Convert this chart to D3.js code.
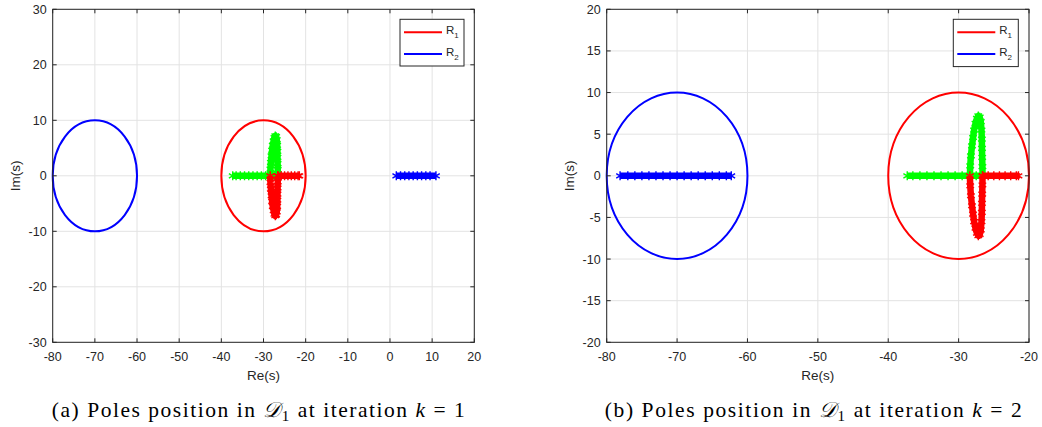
<!DOCTYPE html>
<html><head><meta charset="utf-8">
<script src="https://cdn.jsdelivr.net/npm/d3@7"></script>
<style>
html,body{margin:0;padding:0;background:#fff;}
svg text{font-family:"Liberation Sans",Arial,sans-serif;}
</style></head>
<body>
<svg id="chart" width="1042" height="427"></svg>
<script>
// ---------- data ----------
const xTicksA = [-80,-70,-60,-50,-40,-30,-20,-10,0,10,20];
const yTicksA = [-30,-20,-10,0,10,20,30];
const xTicksB = [-80,-70,-60,-50,-40,-30,-20];
const yTicksB = [-20,-15,-10,-5,0,5,10,15,20];

const regionNames = ["R1","R2"];
const regionCenterRe = [-30,-70];
const regionCenterIm = [0,0];
const regionRadius = [10,10];

// pole loci
const greenRealRe = [-37.3,-36.5,-35.5,-34.5,-33.5,-32.5,-31.5,-30.5,-29.5,-28.5,-27.5,-26.6];
const greenRealIm = [0,0,0,0,0,0,0,0,0,0,0,0];
const greenLoopRe = [-28.4,-28.35,-28.25,-28.1,-27.95,-27.8,-27.6,-27.4,-27.2,-27.0,-26.85,-26.75,-26.7,-26.68,-26.65,-26.62,-26.6];
const greenLoopIm = [0,1.2,2.4,3.6,4.6,5.5,6.3,6.9,7.2,7.05,6.5,5.5,4.4,3.3,2.2,1.1,0];
const redRealRe = [-26.6,-25.8,-25,-24.2,-23.4,-22.6,-21.8,-21.5];
const redRealIm = [0,0,0,0,0,0,0,0];
const redLoopRe = [-28.4,-28.35,-28.25,-28.1,-27.95,-27.8,-27.6,-27.4,-27.2,-27.0,-26.85,-26.75,-26.7,-26.68,-26.65,-26.62,-26.6];
const redLoopIm = [0,-1.2,-2.4,-3.6,-4.6,-5.5,-6.3,-6.9,-7.2,-7.05,-6.5,-5.5,-4.4,-3.3,-2.2,-1.1,0];
const blueRealReA = [1.5,2.5,3.5,4.5,5.5,6.5,7.5,8.5,9.5,10.9];
const blueRealReB = [-78.1,-77,-76,-75,-74,-73,-72,-71,-70,-69,-68,-67,-66,-65,-64,-63,-62.3];

const captionA = {label:"(a) Poles position in ", k:"1"};
const captionB = {label:"(b) Poles position in ", k:"2"};

// ---------- drawing ----------
const svg = d3.select("#chart");
const axisColor = "#262626";
const gridColor = "#e3e3e3";

function zip(a,b){ return a.map((v,i)=>[v,b[i]]); }
function zeros(a){ return a.map(()=>0); }

function drawPanel(opt){
  const x = d3.scaleLinear().domain(opt.xDomain).range([opt.left,opt.right]);
  const y = d3.scaleLinear().domain(opt.yDomain).range([opt.bottom,opt.top]);
  const g = svg.append("g");

  // grid
  g.selectAll(".gx").data(opt.xTicks).enter().append("line")
    .attr("x1",d=>x(d)).attr("x2",d=>x(d)).attr("y1",opt.top).attr("y2",opt.bottom)
    .attr("stroke",gridColor).attr("stroke-width",1);
  g.selectAll(".gy").data(opt.yTicks).enter().append("line")
    .attr("y1",d=>y(d)).attr("y2",d=>y(d)).attr("x1",opt.left).attr("x2",opt.right)
    .attr("stroke",gridColor).attr("stroke-width",1);

  // regions (circles)
  const regionColors = ["#ff0000","#0000ff"];
  regionNames.forEach((n,i)=>{
    g.append("ellipse")
      .attr("cx",x(regionCenterRe[i])).attr("cy",y(regionCenterIm[i]))
      .attr("rx",Math.abs(x(regionCenterRe[i]+regionRadius[i])-x(regionCenterRe[i])))
      .attr("ry",Math.abs(y(regionCenterIm[i]+regionRadius[i])-y(regionCenterIm[i])))
      .attr("fill","none").attr("stroke",regionColors[i]).attr("stroke-width",2);
  });

  // pole loci
  const line = d3.line().x(d=>x(d[0])).y(d=>y(d[1]));
  const ast = d3.symbol().type(d3.symbolAsterisk || d3.symbolCross).size(55);
  function locus(pts,color){
    g.append("path").attr("d",line(pts)).attr("fill","none")
      .attr("stroke",color).attr("stroke-width",6.5).attr("stroke-linejoin","round");
    g.selectAll(null).data(pts).enter().append("path")
      .attr("transform",d=>`translate(${x(d[0])},${y(d[1])})`)
      .attr("d",ast).attr("fill","none").attr("stroke",color).attr("stroke-width",1.4);
  }
  opt.loci.forEach(l=>locus(l.pts,l.color));

  // box
  g.append("rect").attr("x",opt.left).attr("y",opt.top)
    .attr("width",opt.right-opt.left).attr("height",opt.bottom-opt.top)
    .attr("fill","none").attr("stroke",axisColor).attr("stroke-width",1);

  // ticks (inward, all sides)
  const tl = 4;
  opt.xTicks.forEach(t=>{
    g.append("line").attr("x1",x(t)).attr("x2",x(t)).attr("y1",opt.bottom).attr("y2",opt.bottom-tl).attr("stroke",axisColor);
    g.append("line").attr("x1",x(t)).attr("x2",x(t)).attr("y1",opt.top).attr("y2",opt.top+tl).attr("stroke",axisColor);
  });
  opt.yTicks.forEach(t=>{
    g.append("line").attr("y1",y(t)).attr("y2",y(t)).attr("x1",opt.left).attr("x2",opt.left+tl).attr("stroke",axisColor);
    g.append("line").attr("y1",y(t)).attr("y2",y(t)).attr("x1",opt.right).attr("x2",opt.right-tl).attr("stroke",axisColor);
  });

  // tick labels
  g.selectAll(".xl").data(opt.xTicks).enter().append("text")
    .attr("x",d=>x(d)).attr("y",opt.bottom+19).attr("text-anchor","middle")
    .attr("font-size",12.5).attr("fill",axisColor).text(d=>d);
  g.selectAll(".yl").data(opt.yTicks).enter().append("text")
    .attr("x",opt.left-6).attr("y",d=>y(d)+4.5).attr("text-anchor","end")
    .attr("font-size",12.5).attr("fill",axisColor).text(d=>d);

  // axis labels
  g.append("text").attr("x",(opt.left+opt.right)/2).attr("y",opt.bottom+38)
    .attr("text-anchor","middle").attr("font-size",13.5).attr("fill",axisColor).text("Re(s)");
  g.append("text").attr("transform",`translate(${opt.ylabX},${(opt.top+opt.bottom)/2}) rotate(-90)`)
    .attr("text-anchor","middle").attr("font-size",13.5).attr("fill",axisColor).text("Im(s)");

  // legend
  const L = opt.legend;
  g.append("rect").attr("x",L.x).attr("y",L.y).attr("width",L.w).attr("height",L.h)
    .attr("fill","#fff").attr("stroke",axisColor).attr("stroke-width",1);
  regionNames.forEach((n,i)=>{
    const yy = L.y + 13 + i*21.7;
    g.append("line").attr("x1",L.x+4).attr("x2",L.x+42).attr("y1",yy).attr("y2",yy)
      .attr("stroke",regionColors[i]).attr("stroke-width",2);
    const t = g.append("text").attr("x",L.x+46).attr("y",yy+2).attr("font-size",11.5).attr("fill",axisColor);
    t.append("tspan").text(n[0]);
    t.append("tspan").attr("dy",4).attr("font-size",8).text(n.slice(1));
  });

  // caption
  const c = svg.append("text").attr("x",opt.capX).attr("y",417).attr("text-anchor","middle")
    .attr("font-size",21.5).attr("fill","#000")
    .attr("textLength",opt.capW).attr("lengthAdjust","spacing")
    .style("font-family","'Liberation Serif','DejaVu Serif',serif");
  c.append("tspan").text(opt.caption.label);
  c.append("tspan").attr("font-style","italic").text("\uD835\uDC9F");
  c.append("tspan").attr("dy",4).attr("font-size",15).text("1");
  c.append("tspan").attr("dy",-4).text(" at iteration ");
  c.append("tspan").attr("font-style","italic").text("k");
  c.append("tspan").text(" = " + opt.caption.k);
}

const lociCommon = [
  {pts: zip(greenRealRe, greenRealIm), color:"#00ff00"},
  {pts: zip(greenLoopRe, greenLoopIm), color:"#00ff00"},
  {pts: zip(redRealRe, redRealIm), color:"#ff0000"},
  {pts: zip(redLoopRe, redLoopIm), color:"#ff0000"}
];

drawPanel({
  xDomain:[-80,20], yDomain:[-30,30], xTicks:xTicksA, yTicks:yTicksA,
  left:52.7, right:474.3, top:9.3, bottom:342.3, ylabX:20,
  legend:{x:400,y:19.3,w:64,h:46.7},
  loci: lociCommon.concat([{pts: zip(blueRealReA, zeros(blueRealReA)), color:"#0000ff"}]),
  caption:captionA, capX:258.3, capW:413
});
drawPanel({
  xDomain:[-80,-20], yDomain:[-20,20], xTicks:xTicksB, yTicks:yTicksB,
  left:606.7, right:1029, top:9.3, bottom:342.3, ylabX:574,
  legend:{x:953.3,y:19.3,w:65,h:47.3},
  loci: lociCommon.concat([{pts: zip(blueRealReB, zeros(blueRealReB)), color:"#0000ff"}]),
  caption:captionB, capX:813.3, capW:417
});
</script>
</body></html>
